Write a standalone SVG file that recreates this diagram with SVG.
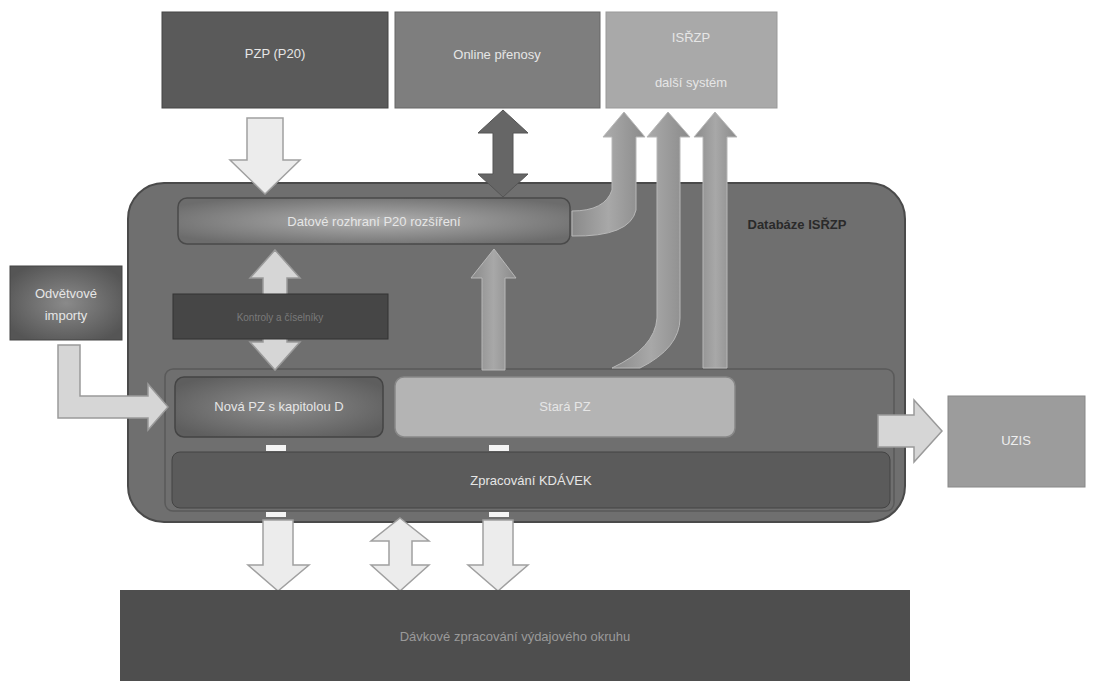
<svg xmlns="http://www.w3.org/2000/svg" width="1093" height="681" viewBox="0 0 1093 681">
<defs>
<radialGradient id="gDat" cx="0.5" cy="0.5" r="0.6"><stop offset="0" stop-color="#b0b0b0"/><stop offset="1" stop-color="#6c6c6c"/></radialGradient>
<radialGradient id="gNova" cx="0.5" cy="0.5" r="0.6"><stop offset="0" stop-color="#8c8c8c"/><stop offset="1" stop-color="#5e5e5e"/></radialGradient>
<radialGradient id="gOdv" cx="0.5" cy="0.5" r="0.6"><stop offset="0" stop-color="#8a8a8a"/><stop offset="1" stop-color="#555"/></radialGradient>
<linearGradient id="gUp" x1="0" y1="0" x2="1" y2="0"><stop offset="0" stop-color="#8a8a8a"/><stop offset="0.5" stop-color="#a8a8a8"/><stop offset="1" stop-color="#8a8a8a"/></linearGradient>
<style>
.lbl{font-family:"Liberation Sans",Arial,sans-serif;font-size:13px;fill:#e6e6e6;text-anchor:middle}
.dark{fill:#2a2a2a;font-weight:bold}
.light-arrow{fill:#d6d6d6;stroke:#9a9a9a;stroke-width:1.5}
.white-arrow{fill:#ececec;stroke:#a0a0a0;stroke-width:1.5}
.gray-arrow{fill:url(#gUp);stroke:#b8b8b8;stroke-width:1}
.tab{fill:#f4f4f4}
</style>
</defs>
<rect width="1093" height="681" fill="#ffffff"/>

<g id="pzp"><rect x="162" y="12" width="226" height="96" fill="#5a5a5a" stroke="#444"/><text class="lbl" x="275" y="58">PZP (P20)</text></g>
<g id="online"><rect x="395" y="12" width="205" height="96" fill="#7e7e7e" stroke="#666"/><text class="lbl" x="497" y="59">Online přenosy</text></g>
<g id="isrzp"><rect x="606" y="12" width="171" height="96" fill="#a9a9a9" stroke="#999"/><text class="lbl" x="691" y="42">ISŘZP</text><text class="lbl" x="691" y="87">další systém</text></g>

<g id="databaze"><rect x="128" y="183" width="777" height="339" rx="36" fill="#6f6f6f" stroke="#4a4a4a" stroke-width="2"/><text class="lbl dark" x="797" y="229">Databáze ISŘZP</text></g>

<g id="inner-frame"><rect x="165" y="369" width="729" height="142" rx="8" fill="none" stroke="#5a5a5a" stroke-width="1.5"/></g>

<g id="connectors">
<path class="white-arrow" d="M247,118 H283 V160 H300 L265,194 L230,160 H247 Z"/>
<path d="M503,110 L528,133 H513 V174 H528 L503,197 L478,174 H493 V133 H478 Z" fill="#666" stroke="#555"/>
<path class="light-arrow" d="M275,250 L300,278 H287 V342 H300 L275,370 L250,342 H263 V278 H250 Z"/>
<path class="gray-arrow" d="M482,370 V278 H471 L494,249 L516,278 H505 V370 Z"/>
<path class="gray-arrow" d="M572,211 Q605,211 612,190 V137 H603 L624,112 L645,137 H636 V210 Q630,237 572,236 Z"/>
<path class="gray-arrow" d="M657,137 V318 Q655,348 612,368 H640 Q680,348 680,318 V137 H690 L668,112 L647,137 Z"/>
<path class="gray-arrow" d="M703,368 V137 H694 L715,112 L737,137 H727 V368 Z"/>
<path class="light-arrow" d="M58,345 H80 V396 H148 V384 L168,407 L148,430 V418 H58 Z"/>
<path class="light-arrow" d="M878,415 H914 V400 L942,431 L914,462 V447 H878 Z"/>
<path class="white-arrow" d="M263,520 H293 V565 H309 L278,591 L248,565 H263 Z"/>
<path class="white-arrow" d="M400,518 L429,541 H412 V565 H429 L400,591 L371,565 H389 V541 H371 Z"/>
<path class="white-arrow" d="M483,520 H513 V565 H528 L498,591 L468,565 H483 Z"/>
</g>

<g id="datove"><rect x="178" y="198" width="392" height="46" rx="9" fill="url(#gDat)" stroke="#4a4a4a" stroke-width="1.5"/><text class="lbl" x="374" y="226">Datové rozhraní P20 rozšíření</text></g>
<g id="kontroly"><rect x="173" y="294" width="215" height="45" fill="#464646" stroke="#333"/><text class="lbl" x="280" y="321" style="font-size:10px;fill:#7a7a7a">Kontroly a číselníky</text></g>
<g id="odvetvove"><rect x="10" y="266" width="112" height="74" fill="url(#gOdv)" stroke="#444"/><text class="lbl" x="66" y="298">Odvětvové</text><text class="lbl" x="66" y="320">importy</text></g>
<g id="nova"><rect x="175" y="377" width="208" height="60" rx="9" fill="url(#gNova)" stroke="#444" stroke-width="1.5"/><text class="lbl" x="279" y="411">Nová PZ s kapitolou D</text></g>
<g id="stara"><rect x="395" y="377" width="340" height="60" rx="9" fill="#b4b4b4" stroke="#888" stroke-width="1.5"/><text class="lbl" x="565" y="411">Stará PZ</text></g>
<g id="tabs"><rect class="tab" x="266" y="445" width="20" height="6"/><rect class="tab" x="489" y="445" width="20" height="6"/><rect class="tab" x="266" y="512" width="20" height="5"/><rect class="tab" x="489" y="512" width="20" height="5"/></g>
<g id="zpracovani"><rect x="172" y="452" width="718" height="56" rx="8" fill="#5b5b5b" stroke="#444"/><text class="lbl" x="531" y="485">Zpracování KDÁVEK</text></g>
<g id="uzis"><rect x="948" y="396" width="137" height="91" fill="#9c9c9c" stroke="#888"/><text class="lbl" x="1016" y="445" style="fill:#eee">UZIS</text></g>
<g id="davkove"><rect x="120" y="590" width="790" height="91" fill="#4e4e4e"/><text class="lbl" x="515" y="641" style="fill:#9a9a9a">Dávkové zpracování výdajového okruhu</text></g>
</svg>
